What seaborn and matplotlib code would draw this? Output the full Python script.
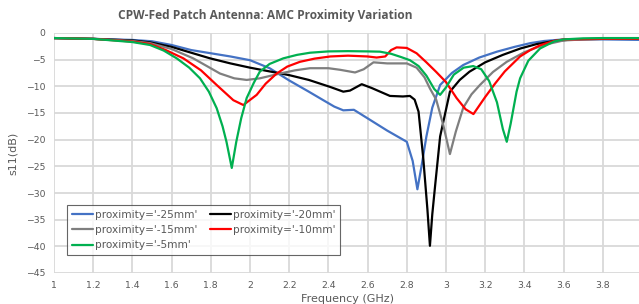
import numpy as np
import pandas as pd
import matplotlib
matplotlib.use("Agg")
import matplotlib.pyplot as plt
import seaborn as sns

# ---- data ----
f_25 = [1.0, 1.2, 1.4, 1.5, 1.6, 1.7, 1.8, 1.9, 2.0, 2.1, 2.2, 2.3, 2.374, 2.43, 2.476, 2.53, 2.6, 2.7,
        2.8, 2.83, 2.854, 2.875, 2.9, 2.93, 2.97, 3.03, 3.088, 3.17, 3.26, 3.35, 3.43, 3.5, 3.6, 3.7, 3.8, 4.0]
s_25 = [-0.95, -1.1, -1.3, -1.55, -2.25, -3.2, -3.8, -4.4, -5.1, -6.6, -8.9, -11.0, -12.6, -13.8, -14.5, -14.4, -16.0, -18.3,
        -20.4, -24.0, -29.3, -25.0, -19.4, -14.0, -9.75, -7.5, -6.0, -4.6, -3.5, -2.6, -1.9, -1.5, -1.2, -1.15, -1.2, -1.3]

f_20 = [1.0, 1.2, 1.4, 1.49, 1.6, 1.7, 1.796, 1.9, 2.0, 2.1, 2.2, 2.3, 2.408, 2.476, 2.51, 2.57, 2.62, 2.714,
        2.78, 2.816, 2.84, 2.86, 2.884, 2.905, 2.918, 2.93, 2.944, 2.97, 3.02, 3.07, 3.12, 3.2, 3.29, 3.38,
        3.46, 3.55, 3.65, 3.8, 4.0]
s_20 = [-0.95, -1.1, -1.4, -1.75, -2.6, -3.7, -4.75, -5.7, -6.5, -7.2, -7.9, -8.8, -10.1, -11.0, -10.8, -9.6, -10.3, -11.8,
        -11.9, -11.8, -12.5, -14.75, -23.5, -33.0, -39.9, -34.0, -28.8, -19.4, -11.0, -8.8, -7.25, -5.5, -4.1, -2.9,
        -2.1, -1.5, -1.2, -1.1, -1.1]

f_15 = [1.0, 1.2, 1.4, 1.49, 1.6, 1.71, 1.78, 1.847, 1.92, 1.983, 2.05, 2.153, 2.23, 2.306, 2.4, 2.46, 2.536,
        2.58, 2.63, 2.7, 2.8, 2.85, 2.89, 2.918, 2.95, 2.986, 3.02, 3.05, 3.088, 3.13, 3.173, 3.24, 3.31, 3.4,
        3.497, 3.6, 3.7, 3.8, 4.0]
s_15 = [-0.95, -1.1, -1.5, -1.9, -3.0, -4.75, -6.2, -7.6, -8.5, -8.8, -8.5, -7.6, -7.0, -6.6, -6.6, -6.9, -7.4,
        -6.8, -5.5, -5.7, -5.7, -6.5, -8.3, -10.4, -12.5, -17.25, -22.7, -18.5, -14.0, -11.5, -9.75, -7.3, -5.4, -3.6,
        -2.25, -1.4, -1.2, -1.1, -1.1]

f_10 = [1.0, 1.2, 1.4, 1.49, 1.57, 1.66, 1.75, 1.83, 1.915, 1.966, 2.034, 2.08, 2.136, 2.19, 2.255, 2.33, 2.41,
        2.5, 2.6, 2.646, 2.69, 2.72, 2.748, 2.8, 2.85, 2.9, 2.95, 3.0, 3.054, 3.1, 3.14, 3.2, 3.25, 3.3, 3.378,
        3.43, 3.48, 3.55, 3.6, 3.8, 4.0]
s_10 = [-0.95, -1.1, -1.6, -2.06, -3.2, -4.75, -7.0, -9.75, -12.6, -13.5, -11.6, -9.5, -7.6, -6.3, -5.4, -4.8, -4.4,
        -4.25, -4.4, -4.6, -4.4, -3.2, -2.7, -2.8, -3.8, -5.5, -7.3, -9.2, -12.2, -14.3, -15.2, -12.0, -9.5, -7.2, -4.4,
        -3.2, -2.3, -1.5, -1.2, -1.1, -1.1]

f_5 = [1.0, 1.2, 1.4, 1.49, 1.56, 1.626, 1.69, 1.745, 1.79, 1.83, 1.86, 1.88, 1.907, 1.93, 1.955, 1.983, 2.02,
       2.05, 2.1, 2.17, 2.24, 2.306, 2.4, 2.5, 2.6, 2.663, 2.72, 2.77, 2.816, 2.86, 2.9, 2.94, 2.97, 3.0, 3.04,
       3.09, 3.139, 3.18, 3.22, 3.26, 3.29, 3.31, 3.33, 3.36, 3.378, 3.42, 3.48, 3.55, 3.6, 3.7, 3.8, 4.0]
s_5 = [-0.95, -1.1, -1.7, -2.25, -3.3, -4.75, -6.5, -8.5, -11.0, -14.1, -17.5, -20.4, -25.3, -20.4, -16.0, -12.2, -9.3,
       -7.25, -5.8, -4.75, -4.1, -3.7, -3.45, -3.4, -3.45, -3.5, -3.9, -4.5, -5.1, -6.2, -8.0, -10.5, -11.6, -10.2, -7.8,
       -6.5, -6.2, -6.8, -9.0, -13.0, -18.0, -20.4, -17.0, -11.0, -8.5, -5.2, -2.9, -1.6, -1.2, -1.0, -0.95, -0.95]

labels = ["proximity='-25mm'", "proximity='-20mm'", "proximity='-15mm'",
          "proximity='-10mm'", "proximity='-5mm'"]
colors = ["#4472C4", "#000000", "#7F7F7F", "#FF0000", "#00B050"]
xtick_labels = ["1", "1.2", "1.4", "1.6", "1.8", "2", "2.2", "2.4", "2.6", "2.8",
                "3", "3.2", "3.4", "3.6", "3.8", ""]

freqs = [f_25, f_20, f_15, f_10, f_5]
vals = [s_25, s_20, s_15, s_10, s_5]

rows = []
for lab, fs, vs in zip(labels, freqs, vals):
    for fq, v in zip(fs, vs):
        rows.append({"freq": fq, "s11": v, "proximity": lab})
df = pd.DataFrame(rows)

sns.set_theme(style="white")
plt.rcParams['font.family'] = ['DejaVu Sans']

fig = plt.figure(figsize=(6.39, 3.04), dpi=100)
ax = fig.add_axes([54/639, 31/304, 588/639, 240/304])

sns.lineplot(data=df, x="freq", y="s11", hue="proximity", hue_order=labels,
             palette=dict(zip(labels, colors)), estimator=None, sort=True,
             linewidth=1.6, ax=ax)

ax.set_xlim(1, 4)
ax.set_ylim(-45, 0)
ax.set_xticks(np.arange(1, 4.01, 0.2))
ax.set_xticklabels(xtick_labels)
ax.set_yticks(np.arange(-45, 0.1, 5))
ax.grid(True, color="#D9D9D9", linewidth=1.3)
ax.set_axisbelow(True)
for sp in ax.spines.values():
    sp.set_visible(False)
ax.tick_params(axis='both', length=0, labelsize=6.7, colors="#595959", pad=6)

ax.set_xlabel("Frequency (GHz)", fontsize=8, color="#595959", labelpad=3)
ax.set_ylabel("s11(dB)", fontsize=8, color="#595959", labelpad=6)

fig.text(265/639, 1 - 16/304, "CPW-Fed Patch Antenna: AMC Proximity Variation",
         ha="center", va="center", fontsize=8.6, fontweight="bold", color="#595959",
         family="Open Sans")

# row-wise legend order (matplotlib fills column-wise)
handles, labs = ax.get_legend_handles_labels()
order = [0, 2, 4, 1, 3]
leg = ax.legend([handles[i] for i in order], [labs[i] for i in order],
                loc="upper left", bbox_to_anchor=(0.022, 0.283), borderaxespad=0,
                ncol=2, fontsize=7.6, frameon=True, fancybox=False,
                handlelength=2.0, handletextpad=0.2, columnspacing=1.2,
                labelspacing=0.5, borderpad=0.45)
leg.get_frame().set_edgecolor("#404040")
leg.get_frame().set_linewidth(0.8)
for t in leg.get_texts():
    t.set_color("#595959")

fig.savefig("out.png", dpi=100)
